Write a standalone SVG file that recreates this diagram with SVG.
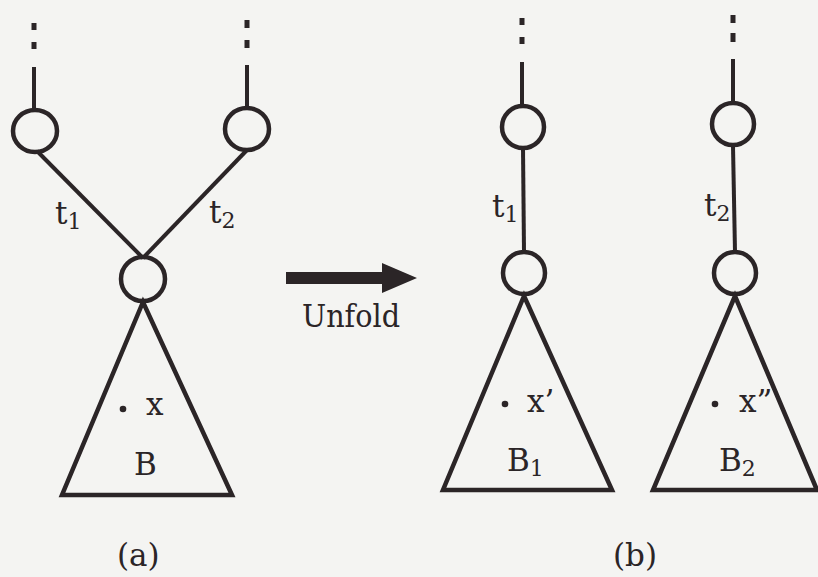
<svg xmlns="http://www.w3.org/2000/svg" width="818" height="577" viewBox="0 0 818 577">
<style>
.ln{stroke:#2b2527;stroke-width:4;fill:none}
.nd{stroke:#2b2527;stroke-width:4.5;fill:none}
.dt{stroke:#2b2527;stroke-width:5;fill:none}
.tx{font-family:'DejaVu Serif','Liberation Serif',serif;fill:#2b2527;font-size:31px}
.sb{font-size:22px}
.pt{fill:#2b2527}
</style>
<rect width="818" height="577" fill="#f4f4f2"/>
<g id="connectors">
<line class="dt" x1="34" y1="23" x2="34" y2="30"/><line class="dt" x1="34" y1="42" x2="34" y2="49"/>
<line class="ln" x1="34" y1="67" x2="34" y2="109"/>
<line class="dt" x1="247" y1="20" x2="247" y2="28"/><line class="dt" x1="247" y1="40" x2="247" y2="48"/>
<line class="ln" x1="247" y1="65" x2="247" y2="107"/>
<line class="ln" x1="37" y1="151" x2="143" y2="258"/>
<line class="ln" x1="247" y1="150" x2="143" y2="258"/>
<line class="dt" x1="522" y1="18" x2="522" y2="25"/><line class="dt" x1="522" y1="37" x2="522" y2="44"/>
<line class="ln" x1="522" y1="62" x2="522" y2="106"/>
<line class="ln" x1="523" y1="148" x2="524" y2="252"/>
<line class="dt" x1="733" y1="15" x2="733" y2="23"/><line class="dt" x1="733" y1="33" x2="733" y2="42"/>
<line class="ln" x1="733" y1="59" x2="733" y2="103"/>
<line class="ln" x1="733" y1="146" x2="735" y2="252"/>
<polygon points="286,272 382,272 382,263 417,278 382,293 382,284 286,284" fill="#2b2527"/>
</g>
<g id="a-top-left"><ellipse class="nd" cx="35" cy="131" rx="22" ry="21"/></g>
<g id="a-top-right"><ellipse class="nd" cx="247" cy="129" rx="22" ry="21"/></g>
<g id="a-root"><ellipse class="nd" cx="143" cy="279" rx="22" ry="22"/></g>
<g id="a-tree"><polygon class="nd" points="143,302 62,495 232,495"/>
<circle class="pt" cx="123" cy="409" r="3.3"/>
<text class="tx" x="146" y="415">x</text>
<text class="tx" x="134" y="475">B</text></g>
<text class="tx" x="55" y="224">t<tspan class="sb" dy="5">1</tspan></text>
<text class="tx" x="209" y="223">t<tspan class="sb" dy="5">2</tspan></text>
<text class="tx" x="302" y="327" textLength="98" lengthAdjust="spacingAndGlyphs">Unfold</text>
<text class="tx" x="117" y="566">(a)</text>
<g id="b1-top"><ellipse class="nd" cx="523" cy="127" rx="21" ry="21"/></g>
<g id="b1-root"><ellipse class="nd" cx="524" cy="273" rx="21" ry="21"/></g>
<g id="b1-tree"><polygon class="nd" points="524,296 443,490 612,490"/>
<circle class="pt" cx="505" cy="404" r="3.3"/>
<text class="tx" x="527" y="412">x’</text>
<text class="tx" x="507" y="471">B<tspan class="sb" dy="5">1</tspan></text></g>
<text class="tx" x="492" y="217">t<tspan class="sb" dy="5">1</tspan></text>
<g id="b2-top"><ellipse class="nd" cx="733" cy="124" rx="21" ry="21"/></g>
<g id="b2-root"><ellipse class="nd" cx="735" cy="273" rx="21" ry="21"/></g>
<g id="b2-tree"><polygon class="nd" points="735,296 653,490 817,490"/>
<circle class="pt" cx="715" cy="404" r="3.3"/>
<text class="tx" x="739" y="412">x”</text>
<text class="tx" x="719" y="471">B<tspan class="sb" dy="5">2</tspan></text></g>
<text class="tx" x="704" y="216">t<tspan class="sb" dy="5">2</tspan></text>
<text class="tx" x="613" y="566">(b)</text>
</svg>
